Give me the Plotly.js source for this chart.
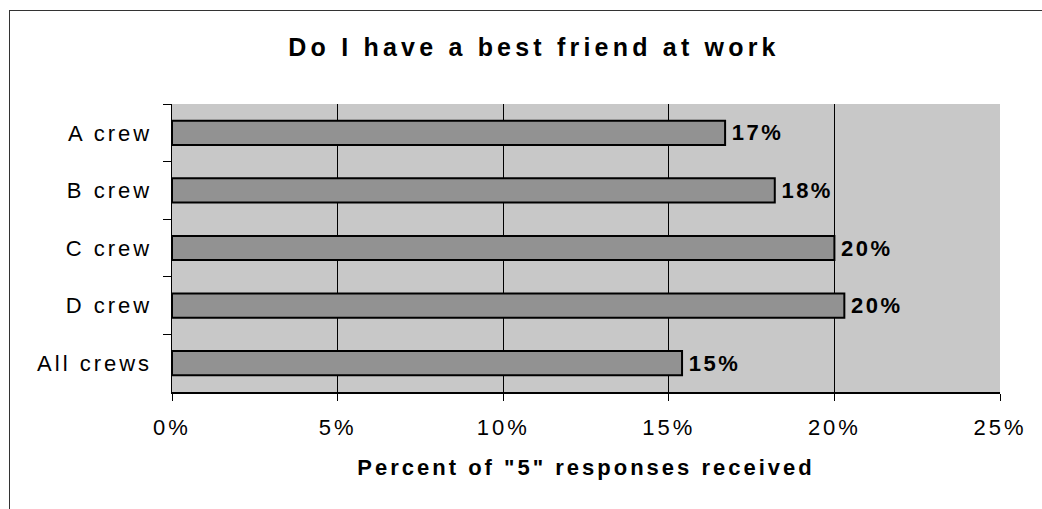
<!DOCTYPE html>
<html>
<head>
<meta charset="utf-8">
<script src="https://cdn.plot.ly/plotly-3.0.1.min.js"></script>
<style>
  html, body { margin: 0; padding: 0; background: #ffffff; }
  #wrap { position: relative; width: 1042px; height: 509px; }
  #chart { position: absolute; left: 0; top: 0; width: 1042px; height: 509px; }
  #frame { position: absolute; left: 9px; top: 10px; width: 1033px; height: 499px;
           border-top: 1px solid #333; border-left: 1px solid #333; pointer-events: none; }
  #chart .gtitle { letter-spacing: 4.2px; }
  #chart .xtitle { letter-spacing: 3px; }
  #chart .xtick text, #chart .ytick text { letter-spacing: 3px; }
  #chart .bartext { letter-spacing: 2.5px; }
</style>
</head>
<body>
<div id="wrap">
  <div id="chart"></div>
  <div id="frame"></div>
</div>
<script>
const categories = ["A crew", "B crew", "C crew", "D crew", "All crews"];
const shareOfFives = [0.167, 0.182, 0.200, 0.203, 0.154];
const tickValues = [0, 0.05, 0.10, 0.15, 0.20, 0.25];
const tickLabels = ["0%", "5%", "10%", "15%", "20%", "25%"];

const fontFam = "Liberation Sans, Arial, sans-serif";

const trace = {
  type: "bar",
  orientation: "h",
  y: categories,
  x: shareOfFives,
  marker: { color: "#929292", line: { color: "#000000", width: 2 } },
  texttemplate: "\u00a0%{x:.0%}",
  textposition: "outside",
  constraintext: "none",
  cliponaxis: false,
  textfont: { family: fontFam, size: 22, color: "#000000", weight: "bold" },
  hoverinfo: "none"
};

const layout = {
  width: 1042,
  height: 509,
  margin: { l: 172, r: 42, t: 104, b: 117 },
  paper_bgcolor: "#ffffff",
  plot_bgcolor: "#c8c8c8",
  showlegend: false,
  bargap: 0.58,
  title: {
    text: "Do I have a best friend at work",
    font: { family: fontFam, size: 25, color: "#000000", weight: "bold" },
    xref: "container", yref: "container",
    x: 534 / 1042, xanchor: "center",
    y: 1 - 47 / 509, yanchor: "middle"
  },
  xaxis: {
    range: [0, 0.25],
    tickvals: tickValues,
    ticktext: tickLabels,
    showgrid: true,
    gridcolor: "#000000",
    gridwidth: 1,
    zeroline: false,
    showline: true,
    linecolor: "#000000",
    linewidth: 1.5,
    ticks: "outside",
    ticklen: 7,
    tickcolor: "#000000",
    ticklabelstandoff: 8,
    tickfont: { family: fontFam, size: 22, color: "#000000" },
    title: {
      text: "Percent of \"5\" responses received",
      font: { family: fontFam, size: 22, color: "#000000", weight: "bold" },
      standoff: 20
    },
    fixedrange: true
  },
  yaxis: {
    type: "category",
    categoryorder: "array",
    categoryarray: categories,
    autorange: "reversed",
    showgrid: false,
    zeroline: false,
    showline: true,
    linecolor: "#000000",
    linewidth: 1.5,
    ticks: "outside",
    tickson: "boundaries",
    ticklen: 8,
    tickcolor: "#000000",
    ticklabelstandoff: 14,
    tickfont: { family: fontFam, size: 22, color: "#000000" },
    fixedrange: true
  }
};

Plotly.newPlot("chart", [trace], layout, { staticPlot: true, displayModeBar: false });
</script>
</body>
</html>
